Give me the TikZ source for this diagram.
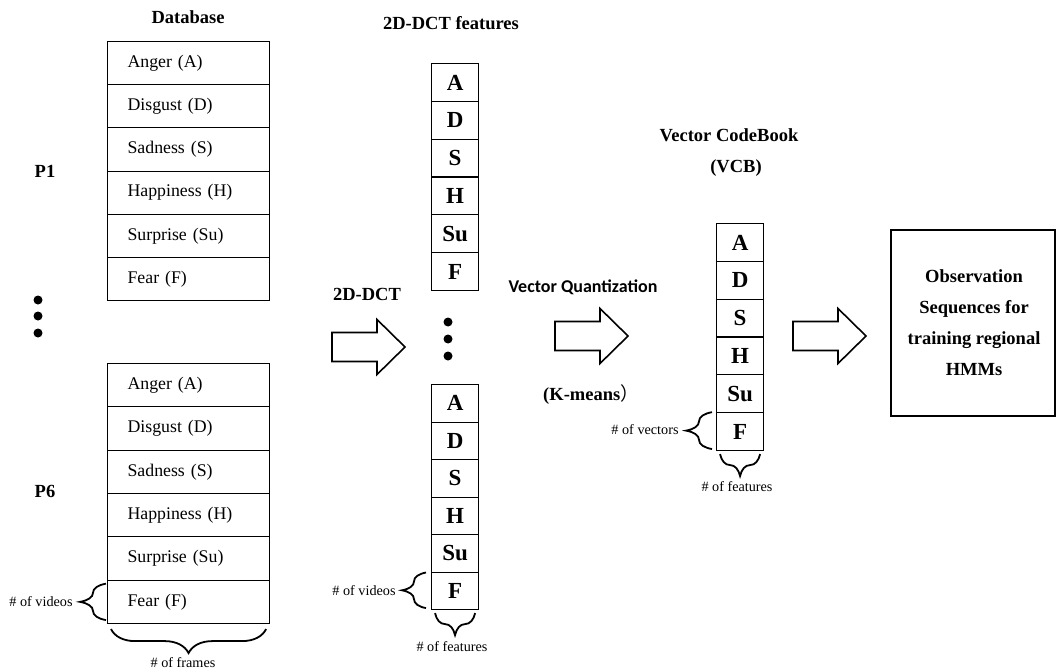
\documentclass[tikz,border=0pt]{standalone}
\usepackage{fontspec}
\setmainfont{Liberation Serif}
\newfontfamily\calfont{Carlito}
\newfontfamily\cjkfont{Noto Sans CJK SC}
\usetikzlibrary{decorations.pathreplacing,calc}
\begin{document}
\begin{tikzpicture}[x=1pt,y=-1pt,
  rowcell/.style={draw, line width=1.1pt, minimum width=162pt, minimum height=#1,
    text width=122pt, inner xsep=20pt, inner ysep=0pt, align=left,
    font=\fontsize{17.8}{20}\selectfont, anchor=north west},
  lettercell/.style={draw, line width=1.1pt, minimum width=47pt, minimum height=#1,
    inner sep=0pt, font=\fontsize{23}{26}\selectfont\bfseries, anchor=north west},
  titletext/.style={font=\fontsize{18.5}{21}\selectfont\bfseries, inner sep=0pt},
  smalltext/.style={font=\fontsize{14.2}{16}\selectfont, inner sep=0pt},
  bracestyle/.style={draw, line width=1.8pt, decorate, decoration={brace, amplitude=#1}},
  dotstyle/.style={fill=black, circle, inner sep=0pt, minimum size=9pt},
  blockarr/.pic={\draw[line width=1.6pt, line join=miter]
      (0,-14.5) -- (45,-14.5) -- (45,-27.5) -- (73,0) -- (45,27.5) -- (45,14.5) -- (0,14.5) -- cycle;}
]
\useasboundingbox (0,0) rectangle (1056,671);

% Database boxes
\node[titletext] (dbtitle) at (188,17) {Database};
\foreach \t [count=\i from 0] in {Anger (A),Disgust (D),Sadness (S),Happiness (H),Surprise (Su),Fear (F)}
  \node[rowcell=43.17pt] (p1r\i) at (107,{41+\i*43.17}) {\t};
\foreach \t [count=\i from 0] in {Anger (A),Disgust (D),Sadness (S),Happiness (H),Surprise (Su),Fear (F)}
  \node[rowcell=43.33pt] (p6r\i) at (107,{363+\i*43.33}) {\t};
\node[titletext] (p1) at (45,171) {P1};
\node[titletext] (p6) at (45,491) {P6};
\node[dotstyle] (d1) at (38,300) {};
\node[dotstyle] (d2) at (38,316) {};
\node[dotstyle] (d3) at (38,333) {};

\node[smalltext] (vid1) at (41,602) {\# of videos};
\draw[bracestyle=26pt] ($(p6r5.south west)+(-1,-4)$) -- ($(p6r5.north west)+(-1,4)$);
\node[smalltext] (frames) at (183,663) {\# of frames};
\draw[bracestyle=24pt] ($(p6r5.south east)+(-4,5)$) -- ($(p6r5.south west)+(4,5)$);

% 2D-DCT features
\node[titletext] (dcttitle) at (451,23) {2D-DCT features};
\foreach \t [count=\i from 0] in {A,D,S,H,Su,F}
  \node[lettercell=37.83pt] (c1r\i) at (431,{63+\i*37.83}) {\t};
\foreach \t [count=\i from 0] in {A,D,S,H,Su,F}
  \node[lettercell=37.5pt] (c2r\i) at (431,{384+\i*37.5}) {\t};
\node[dotstyle] (e1) at (448,322) {};
\node[dotstyle] (e2) at (448,339) {};
\node[dotstyle] (e3) at (448,356) {};

\node[smalltext] (vid2) at (364,591) {\# of videos};
\draw[bracestyle=24pt] ($(c2r5.south west)+(-5,-2)$) -- ($(c2r5.north west)+(-5,1)$);
\node[smalltext] (feat1) at (452,647) {\# of features};
\draw[bracestyle=22pt] ($(c2r5.south east)+(-4,3)$) -- ($(c2r5.south west)+(4,3)$);

% arrow 1
\node[titletext] (dctlabel) at (367,294) {2D-DCT};
\pic at (332,347) {blockarr};

% arrow 2
\node[font=\fontsize{18}{20}\selectfont\calfont\bfseries, inner sep=0pt] (vqlabel) at (583,287) {Vector Quantization};
\node[titletext] (kmeans) at (591,395) {(K-means{\normalfont\cjkfont ）}};
\pic at (555,336) {blockarr};

% Vector codebook
\node[titletext] (vcbtitle) at (729,135) {Vector CodeBook};
\node[titletext] (vcb) at (736,168) {(VCB)};
\foreach \t [count=\i from 0] in {A,D,S,H,Su,F}
  \node[lettercell=37.83pt] (c3r\i) at (716,{223+\i*37.83}) {\t};
\node[smalltext] (vec) at (645,430) {\# of vectors};
\draw[bracestyle=26pt] ($(c3r5.south west)+(-4,-2)$) -- ($(c3r5.north west)+(-4,0)$);
\node[smalltext] (feat2) at (737,487) {\# of features};
\draw[bracestyle=22pt] ($(c3r5.south east)+(-4,3)$) -- ($(c3r5.south west)+(4,3)$);

% arrow 3
\pic at (793,336) {blockarr};

% Observation box
\draw[line width=1.1pt] (891,230) rectangle (1055,416);
\node[font=\fontsize{18.5}{31}\selectfont\bfseries, align=center, inner sep=0pt] (obs) at (974,323)
  {Observation\\ Sequences for\\ training regional\\ HMMs};
\end{tikzpicture}
\end{document}
